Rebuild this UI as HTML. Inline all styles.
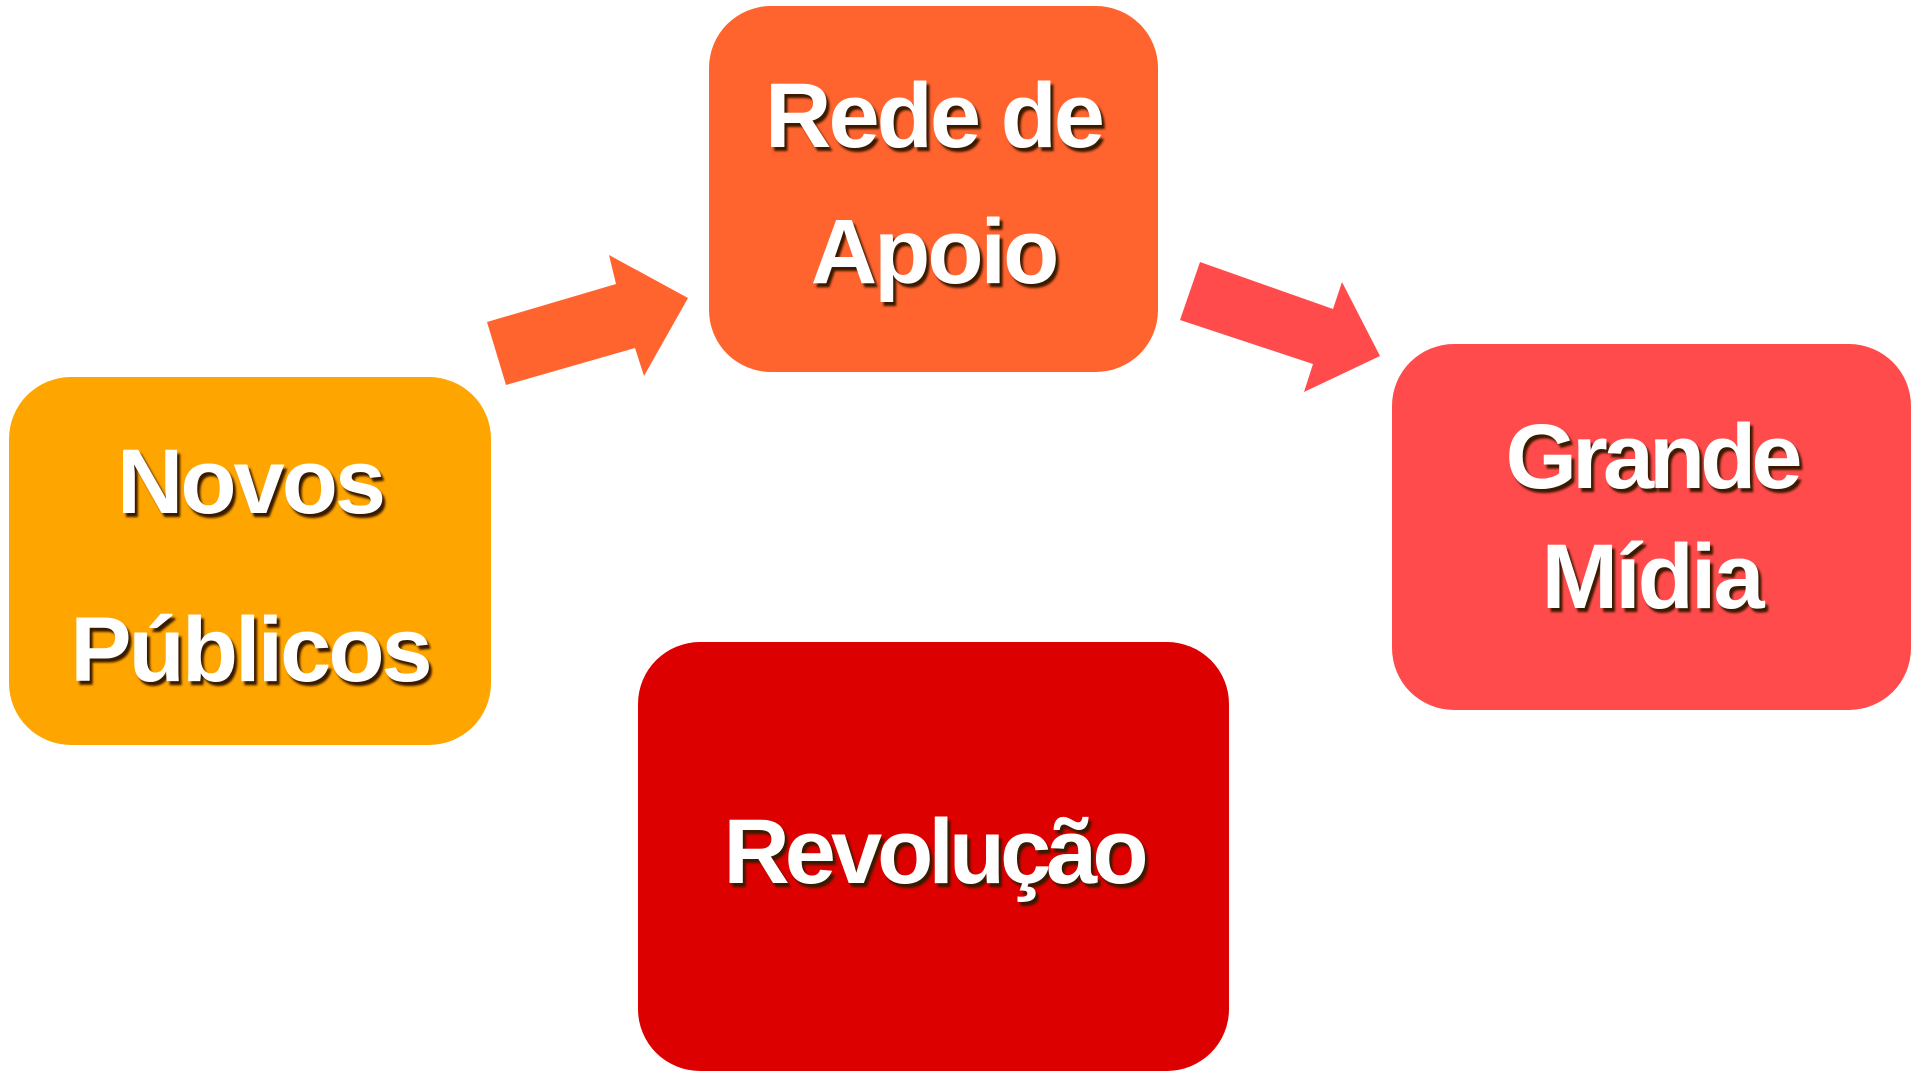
<!DOCTYPE html>
<html><head><meta charset="utf-8"><style>
body{margin:0;width:1920px;height:1078px;background:#fff;position:relative;overflow:hidden;font-family:"Liberation Sans",sans-serif}
.b{position:absolute;border-radius:62px}
.t{position:absolute;left:0;right:0;text-align:center;color:#fff;font-weight:bold;font-size:92px;line-height:100px;text-shadow:3px 4px 2px #3a1a00;letter-spacing:-3px}
</style></head><body>
<svg width="1920" height="1078" style="position:absolute;left:0;top:0">
<polygon fill="#FF632E" points="487,322 616,284 609,255 688,298 644,376 635,348 506,385"/>
<polygon fill="#FF4B4B" points="1200,262 1333,309 1342,282 1380,356 1304,392 1313,364 1180,320"/>
</svg>
<div class="b" style="left:9px;top:377px;width:482px;height:368px;background:#FFA500">
<div class="t" style="top:55px">Novos</div><div class="t" style="top:223px">Públicos</div></div>
<div class="b" style="left:709px;top:6px;width:449px;height:366px;background:#FF632E">
<div class="t" style="top:60px">Rede de</div><div class="t" style="top:196px">Apoio</div></div>
<div class="b" style="left:1392px;top:344px;width:519px;height:366px;background:#FF4B4B">
<div class="t" style="top:63px;letter-spacing:-5px">Grande</div><div class="t" style="top:183px">Mídia</div></div>
<div class="b" style="left:638px;top:642px;width:591px;height:429px;background:#DD0000">
<div class="t" style="top:160px;letter-spacing:-5px">Revolução</div></div>
</body></html>
